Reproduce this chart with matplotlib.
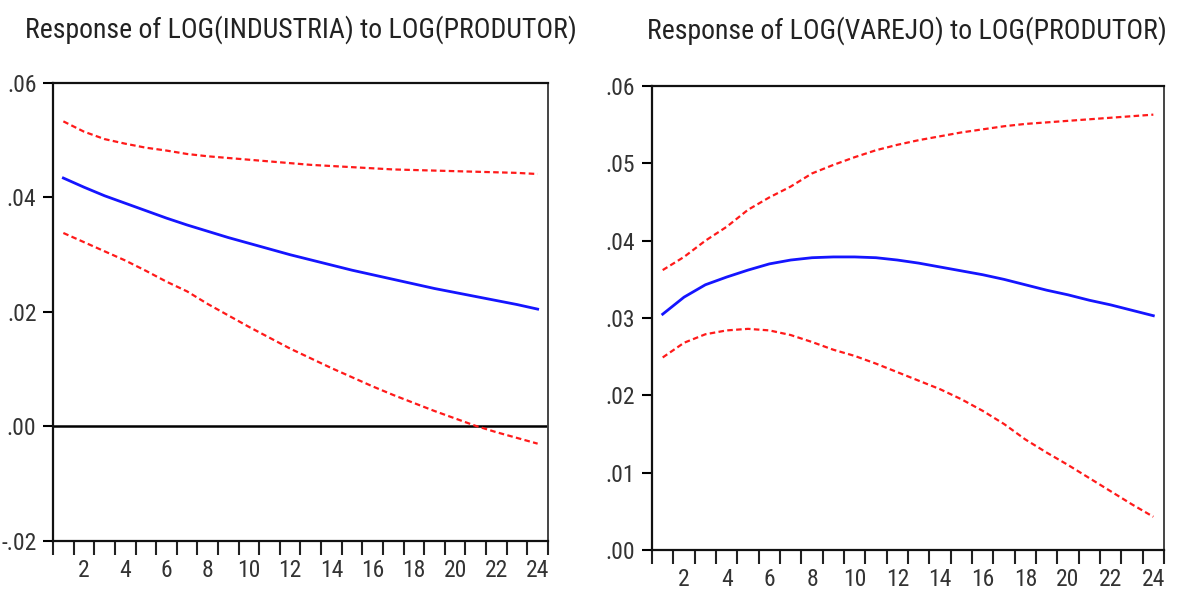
import numpy as np
import matplotlib
matplotlib.use("Agg")
import matplotlib.pyplot as plt
from matplotlib.ticker import FuncFormatter

plt.rcParams['font.family'] = ['Roboto Condensed', 'Liberation Sans']

# periods of the impulse response
periods = list(range(1, 25))

# LOG(INDUSTRIA) response: point estimate and +/- 2 s.e. bands
ind_resp = [0.0434, 0.0418, 0.0403, 0.0390, 0.0377, 0.0364, 0.0352, 0.0341,
            0.0330, 0.0320, 0.0310, 0.0300, 0.0291, 0.0282, 0.0273, 0.0265,
            0.0257, 0.0249, 0.0241, 0.0234, 0.0227, 0.0220, 0.0213, 0.0205]
ind_upper = [0.0533, 0.0515, 0.0502, 0.0494, 0.0487, 0.0482, 0.0476, 0.0472,
             0.0469, 0.0466, 0.0463, 0.0460, 0.0457, 0.0455, 0.0453, 0.0451,
             0.0449, 0.0448, 0.0447, 0.0446, 0.0445, 0.0444, 0.0443, 0.0441]
ind_lower = [0.0338, 0.0322, 0.0306, 0.0290, 0.0272, 0.0253, 0.0236, 0.0214,
             0.0194, 0.0174, 0.0155, 0.0136, 0.0119, 0.0102, 0.0086, 0.0070,
             0.0055, 0.0041, 0.0027, 0.0014, 0.0001, -0.0010, -0.0020, -0.0030]

# LOG(VAREJO) response
var_resp = [0.0305, 0.0327, 0.0343, 0.0353, 0.0362, 0.0370, 0.0375, 0.0378,
            0.0379, 0.0379, 0.0378, 0.0375, 0.0371, 0.0366, 0.0361, 0.0356,
            0.0350, 0.0343, 0.0336, 0.0330, 0.0323, 0.0317, 0.0310, 0.0303]
var_upper = [0.0362, 0.0379, 0.0400, 0.0418, 0.0440, 0.0456, 0.0470, 0.0487,
             0.0498, 0.0508, 0.0517, 0.0524, 0.0530, 0.0535, 0.0540, 0.0544,
             0.0548, 0.0551, 0.0553, 0.0555, 0.0557, 0.0559, 0.0561, 0.0563]
var_lower = [0.0249, 0.0268, 0.0279, 0.0284, 0.0286, 0.0284, 0.0278, 0.0269,
             0.0259, 0.0251, 0.0241, 0.0230, 0.0219, 0.0208, 0.0195, 0.0180,
             0.0163, 0.0143, 0.0126, 0.0110, 0.0093, 0.0076, 0.0059, 0.0043]

titles = ['Response of LOG(INDUSTRIA) to LOG(PRODUTOR)',
          'Response of LOG(VAREJO) to LOG(PRODUTOR)']


def eviews_fmt(v, pos):
    s = '%.2f' % v
    return s.replace('0.', '.', 1)


fig = plt.figure(figsize=(11.84, 5.95), dpi=100)
ax1 = fig.add_axes([0.0448, 0.0908, 0.4180, 0.7697])
ax2 = fig.add_axes([0.5507, 0.0756, 0.4324, 0.7798])

panels = [
    (ax1, ind_resp, ind_upper, ind_lower, (-0.02, 0.06), [-0.02, 0.0, 0.02, 0.04, 0.06]),
    (ax2, var_resp, var_upper, var_lower, (0.0, 0.06), [0.0, 0.01, 0.02, 0.03, 0.04, 0.05, 0.06]),
]

for ax, resp, up, lo, ylim, yt in panels:
    ax.plot(periods, resp, color='#1515ff', lw=2.0, zorder=3)
    ax.plot(periods, up, color='#ff1a1a', lw=1.6, ls=(0, (2.5, 1.5)), zorder=3)
    ax.plot(periods, lo, color='#ff1a1a', lw=1.6, ls=(0, (2.5, 1.5)), zorder=3)
    ax.set_xlim(0.5, 24.5)
    ax.set_ylim(*ylim)
    ax.set_yticks(yt)
    ax.yaxis.set_major_formatter(FuncFormatter(eviews_fmt))
    ax.set_xticks(range(2, 25, 2))
    ax.set_xticks(np.arange(0.5, 25, 1.0), minor=True)
    ax.tick_params(axis='x', which='major', length=0, pad=13, labelsize=17, labelcolor='#333333')
    ax.tick_params(axis='x', which='minor', length=10, width=1.5, color='#222222')
    ax.tick_params(axis='y', length=7, width=1.5, pad=5, labelsize=17, labelcolor='#333333')
    for side in ['left', 'bottom', 'top']:
        ax.spines[side].set_linewidth(1.6)
        ax.spines[side].set_color('#111111')
    ax.spines['right'].set_linewidth(1.4)
    ax.spines['right'].set_color('#444444')

ax1.axhline(0, color='black', lw=1.8, zorder=2)

fig.text(0.254, 0.95, titles[0], ha='center', va='center', fontsize=20, color='#222222')
fig.text(0.766, 0.948, titles[1], ha='center', va='center', fontsize=20, color='#222222')

fig.savefig('out.png', dpi=100)
